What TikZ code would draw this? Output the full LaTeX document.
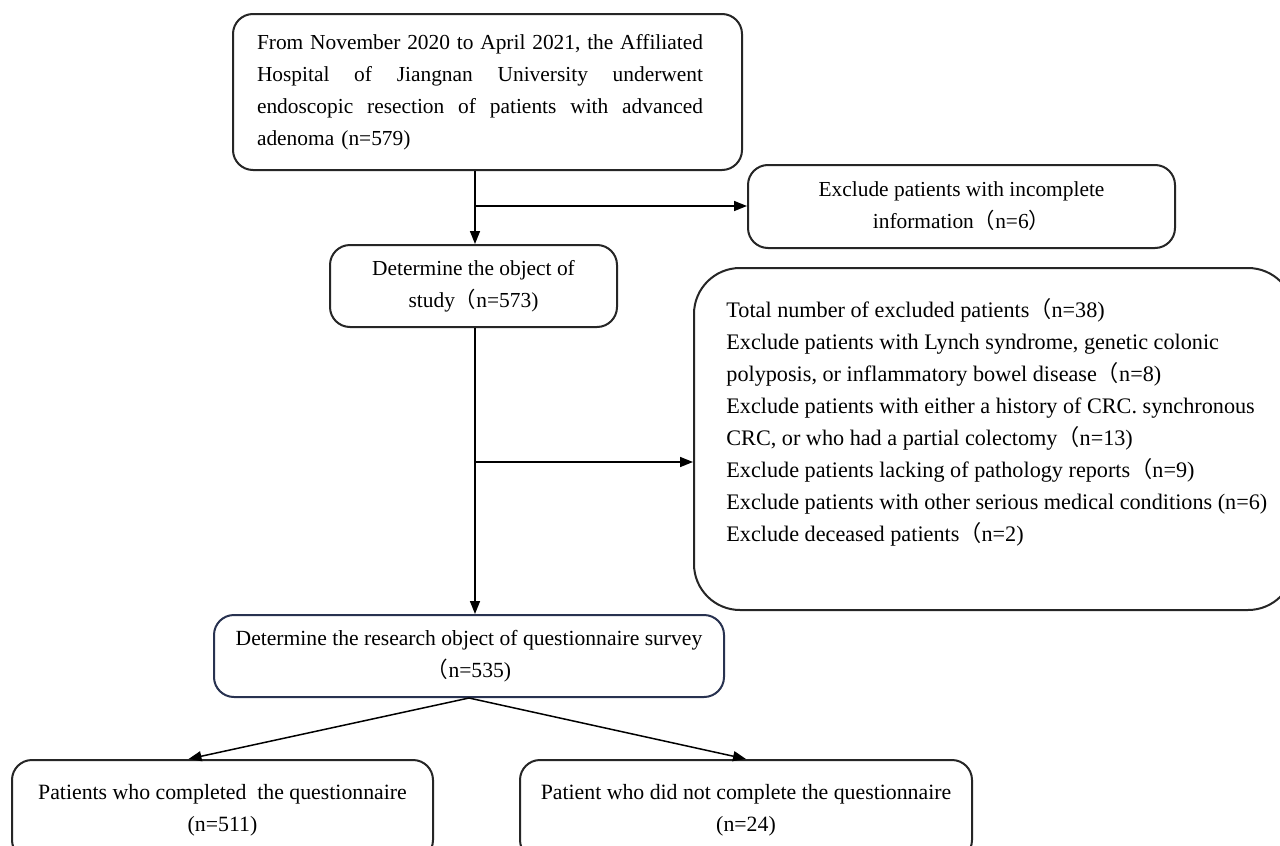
\documentclass[tikz,border=0pt]{standalone}
\usepackage{fontspec}
\setmainfont{Liberation Serif}
\newfontfamily\cjk{Noto Sans CJK SC}
\usetikzlibrary{arrows.meta,calc}
\newcommand\lpar{{\cjk （}}
\newcommand\rpar{{\cjk ）}}
\newcommand\jline[1]{\leavevmode\hbox to 223pt{#1}}
\tikzset{
  box/.style={draw=black!85, line width=1pt, rounded corners=10pt, align=center,
    font=\fontsize{10.7}{16}\selectfont, inner sep=0pt},
  conn/.style={line width=0.75pt, -{Triangle[length=6.5pt,width=5pt]}}
}
\begin{document}
\begin{tikzpicture}[x=0.5pt,y=-0.5pt]
\useasboundingbox (0,0) rectangle (1280,846);
\clip (0,0) rectangle (1280,846);
\fill[white] (0,0) rectangle (1280,846);

% top box
\node[box, minimum width=254.5pt, minimum height=78pt, text width=230.5pt, align=left]
  (start) at (487.5,92) {\jline{From\hfill November\hfill 2020\hfill to\hfill April\hfill 2021,\hfill the\hfill Affiliated}\\
  \jline{Hospital\hfill of\hfill Jiangnan\hfill University\hfill underwent}\\
  \jline{endoscopic\hfill resection\hfill of\hfill patients\hfill with\hfill advanced}\\
  adenoma (n=579)};

% incomplete info
\node[box, minimum width=213.5pt, minimum height=41.5pt] (incomp) at (961.5,206.5)
  {Exclude patients with incomplete\\information\lpar n=6\rpar};

% study object
\node[box, minimum width=143.5pt, minimum height=41pt] (study) at (473.5,286)
  {Determine the object of\\study\lpar n=573)};

% big exclusion box
\node[draw=black!85, line width=1pt, rounded corners=23pt, minimum width=300pt,
  minimum height=171pt, inner sep=0pt] (excl) at (994,439) {};
\node[anchor=north west, align=left, inner sep=0pt,
  font=\fontsize{11.1}{16}\selectfont] (excltext) at (726,298)
  {Total number of excluded patients\lpar n=38)\\
   Exclude patients with Lynch syndrome, genetic colonic\\
   polyposis, or inflammatory bowel disease\lpar n=8)\\
   Exclude patients with either a history of CRC. synchronous\\
   CRC, or who had a partial colectomy\lpar n=13)\\
   Exclude patients lacking of pathology reports\lpar n=9)\\
   Exclude patients with other serious medical conditions (n=6)\\
   Exclude deceased patients\lpar n=2)};

% research object
\node[box, draw={rgb,255:red,40;green,50;blue,80}, minimum width=255pt, minimum height=41pt,
  font=\fontsize{10.8}{16}\selectfont]
  (survey) at (469,656)
  {Determine the research object of questionnaire survey\\\lpar n=535)};

% bottom boxes
\node[box, minimum width=210.5pt, minimum height=50pt, font=\fontsize{10.9}{16}\selectfont] (done) at (222.5,810)
  {Patients who completed\ \ the questionnaire\\(n=511)};
\node[box, minimum width=226pt, minimum height=50pt, font=\fontsize{10.9}{16}\selectfont] (notdone) at (746,810)
  {Patient who did not complete the questionnaire\\(n=24)};

% connectors
\coordinate (j1) at (475,206);
\coordinate (j2) at (475,462);
\draw[conn] (start.south -| j1) -- (study.north -| j1);
\draw[conn] (j1) -- (incomp.west |- j1);
\draw[conn] (study.south -| j2) -- (survey.north -| j2);
\draw[conn] (j2) -- (excl.west |- j2);
\draw[conn] (survey.south) -- ([xshift=-17pt]done.north);
\draw[conn] (survey.south) -- (notdone.north);
\end{tikzpicture}
\end{document}
